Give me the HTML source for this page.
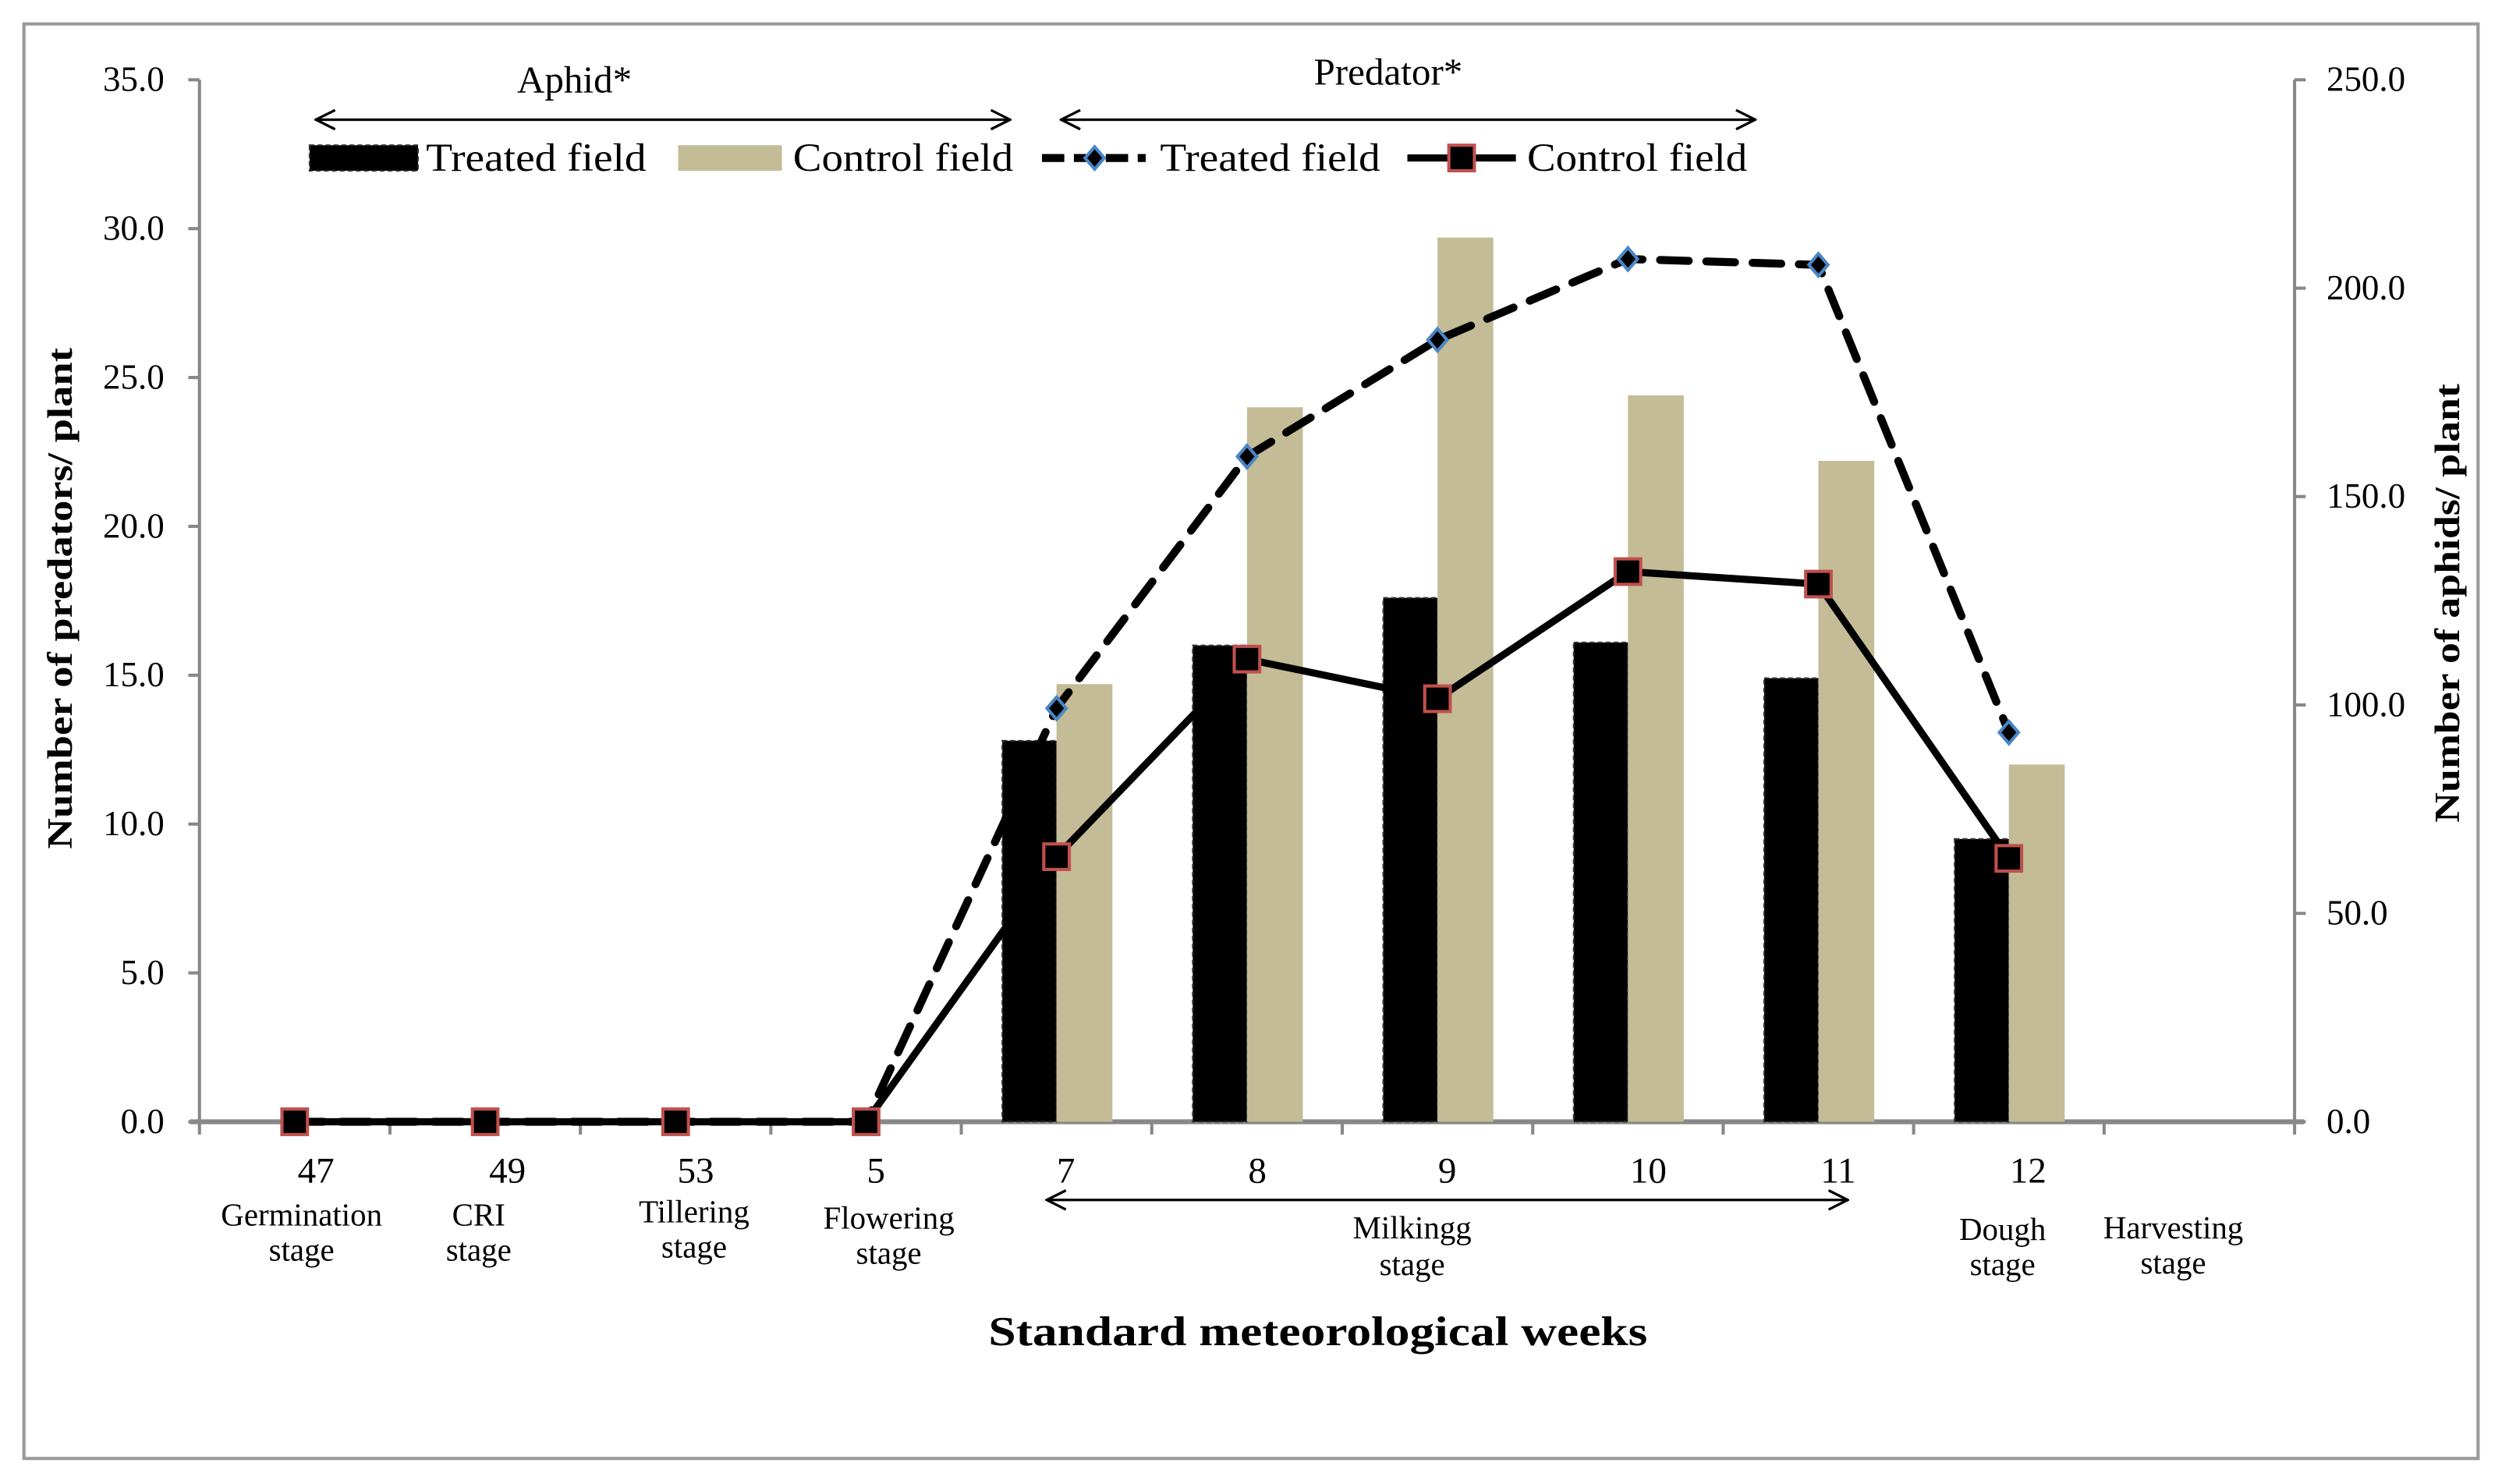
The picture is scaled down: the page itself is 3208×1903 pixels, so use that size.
<!DOCTYPE html>
<html><head><meta charset="utf-8"><style>
html,body{margin:0;padding:0;background:#fff;}
svg{display:block;}
text{font-family:"Liberation Serif",serif;fill:#000;}
</style></head><body>
<svg id="chart" width="3208" height="1903" viewBox="0 0 1568 930" preserveAspectRatio="none" xmlns="http://www.w3.org/2000/svg">
<rect x="15" y="15" width="1538" height="899" fill="#fff" stroke="#999" stroke-width="2"/>
<g id="axes"></g>
<g id="bars"></g>
<g id="lines"></g>
<g id="labels"></g>
</svg>
<script>
const categories = ["47","49","53","5","7","8","9","10","11","12",""];
const stages = [["Germination","stage"],["CRI","stage"],["Tillering","stage"],["Flowering","stage"],null,null,null,null,null,["Dough","stage"],["Harvesting","stage"]];
const treatedBars = [0,0,0,0,12.8,16.0,17.6,16.1,14.9,9.5,null];
const controlBars = [0,0,0,0,14.7,24.0,29.7,24.4,22.2,12.0,null];
const treatedLine = [0,0,0,0,99.2,159.6,187.6,207,205.6,93.4];
const controlLine = [0,0,0,0,63.6,111,101.5,132,129,63.2];
const leftTicks = [0,5,10,15,20,25,30,35];
const rightTicks = [0,50,100,150,200,250];

const NS="http://www.w3.org/2000/svg";
const X0=125,X1=1438,Y0=703,Y1=50;
const cw=(X1-X0)/categories.length;
const xc=i=>X0+cw*(i+0.5);
const yL=v=>Y0-v/35*(Y0-Y1);
const yR=v=>Y0-v/250*(Y0-Y1);
function mk(tag,attrs,parent,txt){const e=document.createElementNS(NS,tag);for(const k in attrs)e.setAttribute(k,attrs[k]);if(txt!==undefined)e.textContent=txt;document.getElementById(parent).appendChild(e);return e;}

let e;
e=mk('line',{x1:X0,y1:Y1,x2:X0,y2:Y0,stroke:'#888','stroke-width':2},'axes');


e=mk('line',{x1:X1,y1:Y1,x2:X1,y2:Y0,stroke:'#888','stroke-width':2},'axes');


e=mk('line',{x1:X0-6,y1:Y0,x2:X1+6,y2:Y0,stroke:'#888','stroke-width':3},'axes');


leftTicks.forEach(v=>{
  mk('line',{x1:X0-7,y1:yL(v),x2:X0,y2:yL(v),stroke:'#888','stroke-width':2},'axes');
  e=mk('text',{x:103,y:yL(v)+7,'font-size':22,'text-anchor':'end'},'axes',v.toFixed(1));
  
  
});
rightTicks.forEach(v=>{
  mk('line',{x1:X1,y1:yR(v),x2:X1+7,y2:yR(v),stroke:'#888','stroke-width':2},'axes');
  e=mk('text',{x:1458,y:yR(v)+7,'font-size':22},'axes',v.toFixed(1));
  
  
});
for(let i=0;i<=categories.length;i++){
  mk('line',{x1:X0+cw*i,y1:Y0,x2:X0+cw*i,y2:Y0+8,stroke:'#888','stroke-width':2},'axes');
}
const bw=34;
categories.forEach((c,i)=>{
  if(treatedBars[i]){
    e=mk('rect',{x:xc(i)-bw,y:yL(treatedBars[i]),width:bw,height:Y0-yL(treatedBars[i]),fill:'#000',stroke:'#333','stroke-width':1,'stroke-dasharray':'3,2'},'bars');
    
    
  }
  if(controlBars[i]){
    e=mk('rect',{x:xc(i),y:yL(controlBars[i]),width:bw+1,height:Y0-yL(controlBars[i]),fill:'#c4bc96'},'bars');
    
    
  }
});
e=mk('polyline',{points:treatedLine.map((v,i)=>xc(i)+','+yR(v)).join(' '),fill:'none',stroke:'#000','stroke-width':5,'stroke-dasharray':'18,11','stroke-linecap':'round'},'lines');


e=mk('polyline',{points:controlLine.map((v,i)=>xc(i)+','+yR(v)).join(' '),fill:'none',stroke:'#000','stroke-width':4.5},'lines');


treatedLine.forEach((v,i)=>{
  const x=xc(i),y=yR(v);
  e=mk('polygon',{points:`${x},${y-7} ${x+6},${y} ${x},${y+7} ${x-6},${y}`,fill:'#000',stroke:'#4a86c8','stroke-width':2},'lines');
  
  
});
controlLine.forEach((v,i)=>{
  const x=xc(i),y=yR(v);
  e=mk('rect',{x:x-8,y:y-8,width:16,height:16,fill:'#000',stroke:'#c0504d','stroke-width':2},'lines');
  
  
});
const numX=[198,318,436,549,668,788,907,1033,1152,1271];
categories.forEach((c,i)=>{
  if(c){e=mk('text',{x:numX[i],y:741,'font-size':23,'text-anchor':'middle'},'labels',c);
  
  }
});
const stX=[189,300,435,557,0,0,0,0,0,1255,1362];
const stY=[768,768,766,770,0,0,0,0,0,777,776];
stages.forEach((s,i)=>{
  if(!s)return;
  e=mk('text',{x:stX[i],y:stY[i],'font-size':20,'text-anchor':'middle'},'labels',s[0]);
  
  
  mk('text',{x:stX[i],y:stY[i]+22,'font-size':20,'text-anchor':'middle'},'labels',s[1]);
});
</script>
<svg style="position:absolute;left:0;top:0" width="3208" height="1903" viewBox="0 0 1568 930" preserveAspectRatio="none" xmlns="http://www.w3.org/2000/svg">
<defs><marker id="ah" markerWidth="14" markerHeight="14" refX="13" refY="7" orient="auto-start-reverse" markerUnits="userSpaceOnUse"><path d="M1,1 L13,7 L1,13" fill="none" stroke="#000" stroke-width="1.6"/></marker></defs>
<g>
<text x="360" y="58" font-size="24" text-anchor="middle">Aphid*</text>
<line x1="198" y1="75" x2="633" y2="75" stroke="#000" stroke-width="1.6" marker-start="url(#ah)" marker-end="url(#ah)"/>
</g>
<g>
<text x="870" y="53" font-size="24" text-anchor="middle">Predator*</text>
<line x1="665" y1="75" x2="1100" y2="75" stroke="#000" stroke-width="1.6" marker-start="url(#ah)" marker-end="url(#ah)"/>
</g>
<g>
<line x1="656" y1="752" x2="1158" y2="752" stroke="#000" stroke-width="1.6" marker-start="url(#ah)" marker-end="url(#ah)"/>
<text x="885" y="776" font-size="20" text-anchor="middle">Milkingg</text>
<text x="885" y="799" font-size="20" text-anchor="middle">stage</text>
</g>
<g>
<rect x="194" y="91" width="68" height="16" fill="#000" stroke="#333" stroke-dasharray="3,2"/>
<text x="267" y="107" font-size="25" textLength="138" lengthAdjust="spacingAndGlyphs">Treated field</text>
<rect x="425" y="91" width="65" height="16" fill="#c4bc96"/>
<text x="497" y="107" font-size="25" textLength="138" lengthAdjust="spacingAndGlyphs">Control field</text>
<line x1="653" y1="99" x2="718" y2="99" stroke="#000" stroke-width="5" stroke-dasharray="14,6"/>
<polygon points="686,92 692,99 686,106 680,99" fill="#000" stroke="#4a86c8" stroke-width="2"/>
<text x="727" y="107" font-size="25" textLength="138" lengthAdjust="spacingAndGlyphs">Treated field</text>
<line x1="882" y1="99" x2="950" y2="99" stroke="#000" stroke-width="4.5"/>
<rect x="908" y="91" width="16" height="16" fill="#000" stroke="#c0504d" stroke-width="2"/>
<text x="957" y="107" font-size="25" textLength="138" lengthAdjust="spacingAndGlyphs">Control field</text>
</g>
<text x="826" y="843" font-size="26" font-weight="bold" text-anchor="middle" textLength="413" lengthAdjust="spacingAndGlyphs">Standard meteorological weeks</text>
<text transform="translate(45,375) rotate(-90)" font-size="22" font-weight="bold" text-anchor="middle" textLength="314" lengthAdjust="spacingAndGlyphs">Number of predators/ plant</text>
<text transform="translate(1541,378) rotate(-90)" font-size="22" font-weight="bold" text-anchor="middle" textLength="275" lengthAdjust="spacingAndGlyphs">Number of aphids/ plant</text>
</svg>
</body></html>
